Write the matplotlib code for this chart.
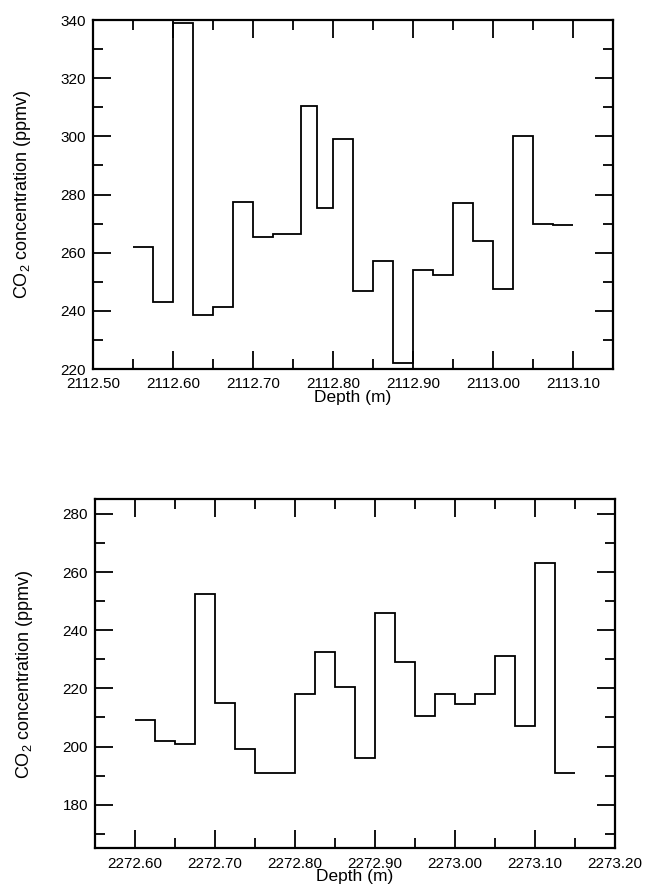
"""
CO2 concentration steps along two ice-core depth intervals.
"""

import matplotlib
matplotlib.use("Agg")
import matplotlib.pyplot as plt
from matplotlib.ticker import MultipleLocator, FormatStrFormatter


# upper panel: sample edges (m) and CO2 values (ppmv)
depth_edges_a = [2112.55, 2112.575, 2112.60, 2112.625, 2112.65, 2112.675, 2112.70,
                 2112.725, 2112.76, 2112.78, 2112.80, 2112.825, 2112.85, 2112.875,
                 2112.90, 2112.925, 2112.95, 2112.975, 2113.00, 2113.025, 2113.05,
                 2113.075, 2113.10]
co2_a = [262, 243, 339, 238.5, 241.5, 277.5, 265.5, 266.5, 310.5, 275.5, 299,
         247, 257, 222, 254, 252.5, 277, 264, 247.5, 300, 270, 269.5]

# lower panel
depth_edges_b = [2272.60, 2272.625, 2272.65, 2272.675, 2272.70, 2272.725, 2272.75,
                 2272.775, 2272.80, 2272.825, 2272.85, 2272.875, 2272.90, 2272.925,
                 2272.95, 2272.975, 2273.00, 2273.025, 2273.05, 2273.075, 2273.10,
                 2273.125, 2273.15]
co2_b = [209, 202, 201, 252.5, 215, 199, 191, 191, 218, 232.5, 220.5, 196,
         246, 229, 210.5, 218, 214.5, 218, 231, 207, 263, 191]

plt.rcParams["font.family"] = ["Liberation Sans", "DejaVu Sans"]
plt.rcParams["mathtext.fontset"] = "custom"
plt.rcParams["mathtext.rm"] = "Liberation Sans"
plt.rcParams["mathtext.it"] = "Liberation Sans"


def style_axes(ax, xlim, ylim):
    ax.set_xlim(*xlim)
    ax.set_ylim(*ylim)
    ax.xaxis.set_major_locator(MultipleLocator(0.1))
    ax.xaxis.set_minor_locator(MultipleLocator(0.05))
    ax.yaxis.set_major_locator(MultipleLocator(20))
    ax.yaxis.set_minor_locator(MultipleLocator(10))
    ax.xaxis.set_major_formatter(FormatStrFormatter("%.2f"))
    ax.tick_params(which="both", direction="in", top=True, right=True,
                   width=1.3, labelsize=11)
    ax.tick_params(which="major", length=13)
    ax.tick_params(which="minor", length=7.5)
    ax.tick_params(axis="y", pad=5)
    ax.tick_params(axis="x", pad=6)
    for s in ax.spines.values():
        s.set_linewidth(1.6)
    ax.set_xlabel("Depth (m)", fontsize=12.5, labelpad=-1)
    ax.set_ylabel("CO$_2$ concentration (ppmv)", fontsize=13, labelpad=20)


def main():
    fig = plt.figure(figsize=(6.46, 8.94), dpi=100)
    ax1 = fig.add_axes([0.144, 0.5872, 0.805, 0.3904])
    ax2 = fig.add_axes([0.147, 0.0511, 0.805, 0.3904])

    ax1.stairs(co2_a, depth_edges_a, baseline=None, color="black", linewidth=1.3)
    style_axes(ax1, (2112.50, 2113.15), (220, 340))

    ax2.stairs(co2_b, depth_edges_b, baseline=None, color="black", linewidth=1.3)
    style_axes(ax2, (2272.55, 2273.20), (165, 285))

    fig.savefig("out.png", dpi=100)


if __name__ == "__main__":
    main()
